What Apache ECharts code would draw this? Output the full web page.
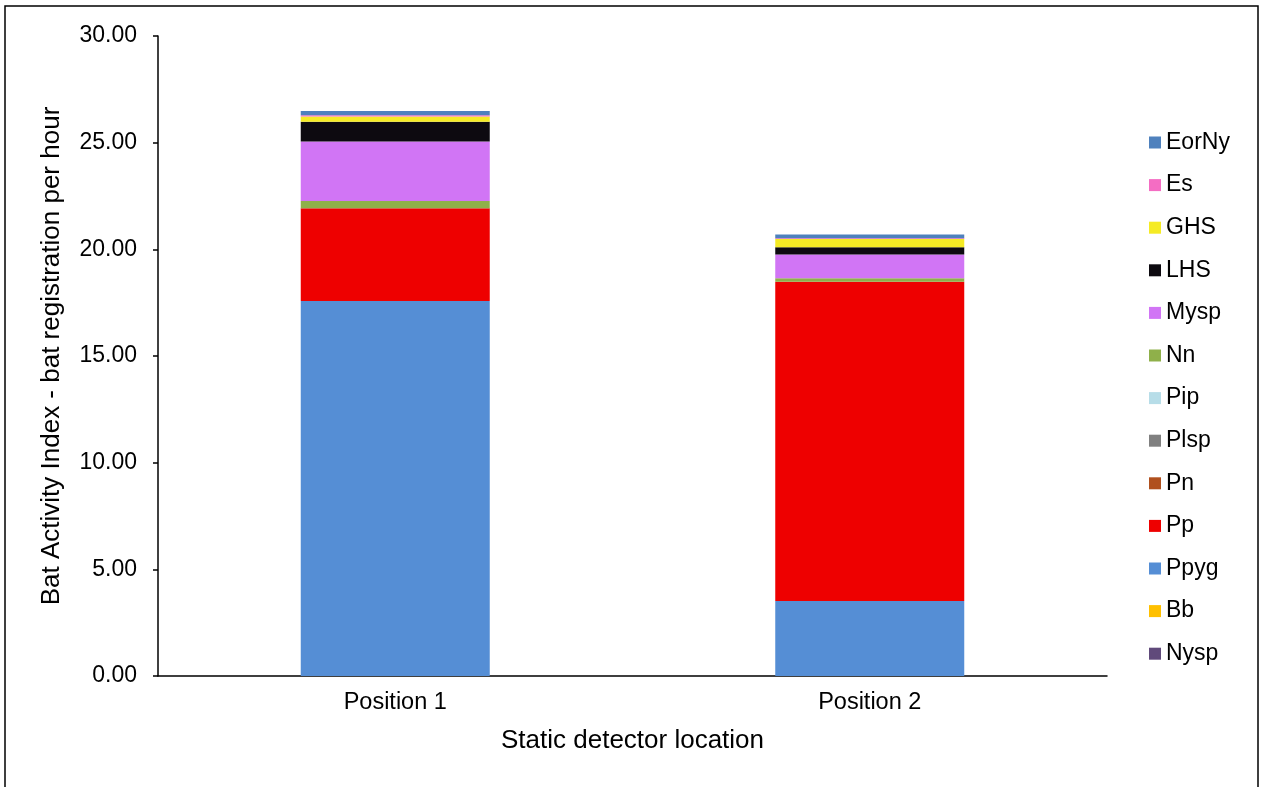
<!DOCTYPE html>
<html>
<head>
<meta charset="utf-8">
<script src="https://cdn.jsdelivr.net/npm/echarts@6/dist/echarts.min.js"></script>
<style>
html,body{margin:0;padding:0;background:#fff;}
#c{width:1261px;height:787px;}
</style>
</head>
<body>
<div id="c"></div>
<script>
// Data
var categories = ['Position 1', 'Position 2'];
var yTicks = [0, 5, 10, 15, 20, 25, 30];
// stacking order bottom -> top
var Nysp  = [0, 0];
var Bb    = [0, 0];
var Ppyg  = [17.58, 3.52];
var Pp    = [4.33, 14.96];
var Pn    = [0.03, 0];
var Plsp  = [0, 0];
var Pip   = [0, 0];
var Nn    = [0.33, 0.16];
var Mysp  = [2.79, 1.12];
var LHS   = [0.92, 0.34];
var GHS   = [0.25, 0.39];
var Es    = [0.06, 0.03];
var EorNy = [0.20, 0.18];

var seriesDefs = [
  ['Nysp', Nysp, '#604A7B'],
  ['Bb', Bb, '#FFC000'],
  ['Ppyg', Ppyg, '#558ED5'],
  ['Pp', Pp, '#EE0000'],
  ['Pn', Pn, '#B0501E'],
  ['Plsp', Plsp, '#808080'],
  ['Pip', Pip, '#B7DDE8'],
  ['Nn', Nn, '#8FB04A'],
  ['Mysp', Mysp, '#D175F5'],
  ['LHS', LHS, '#0D0A10'],
  ['GHS', GHS, '#F5EB24'],
  ['Es', Es, '#F46DC3'],
  ['EorNy', EorNy, '#4F81BD']
];

var font = '"Liberation Sans", Arial, sans-serif';
var chart = echarts.init(document.getElementById('c'));
chart.setOption({
  animation: false,
  backgroundColor: '#fff',
  grid: {left: 158, right: 154, top: 36, bottom: 111, containLabel: false},
  graphic: [{
    type: 'rect', z: 100,
    shape: {x: 5, y: 6, width: 1253, height: 800},
    style: {fill: 'none', stroke: '#000', lineWidth: 1.5}
  }],
  legend: {
    orient: 'vertical',
    left: 1144, top: 126,
    itemWidth: 12, itemHeight: 12,
    itemGap: 19.6,
    icon: 'rect',
    data: seriesDefs.map(function(d){return d[0];}).reverse(),
    textStyle: {fontFamily: font, fontSize: 23, color: '#000'}
  },
  xAxis: {
    type: 'category',
    data: categories,
    name: 'Static detector location',
    nameLocation: 'middle',
    nameGap: 52,
    nameTextStyle: {fontFamily: font, fontSize: 26, color: '#000'},
    axisLine: {lineStyle: {color: '#000', width: 1.5}},
    axisTick: {show: false},
    axisLabel: {fontFamily: font, fontSize: 23.5, color: '#000', margin: 15}
  },
  yAxis: {
    type: 'value',
    min: yTicks[0], max: yTicks[yTicks.length-1], interval: 5,
    name: 'Bat Activity Index - bat registration per hour',
    nameLocation: 'middle',
    nameGap: 93,
    nameTextStyle: {fontFamily: font, fontSize: 26, color: '#000'},
    axisLine: {show: true, lineStyle: {color: '#000', width: 1.5}},
    axisTick: {show: true, length: 5, lineStyle: {color: '#000', width: 1.5}},
    splitLine: {show: false},
    axisLabel: {fontFamily: font, fontSize: 23, color: '#000', margin: 21,
      formatter: function(v){return v.toFixed(2);}}
  },
  series: seriesDefs.map(function(d){
    return {
      name: d[0], type: 'bar', stack: 'total',
      data: d[1], barWidth: 189,
      itemStyle: {color: d[2]}
    };
  })
});
</script>
</body>
</html>
